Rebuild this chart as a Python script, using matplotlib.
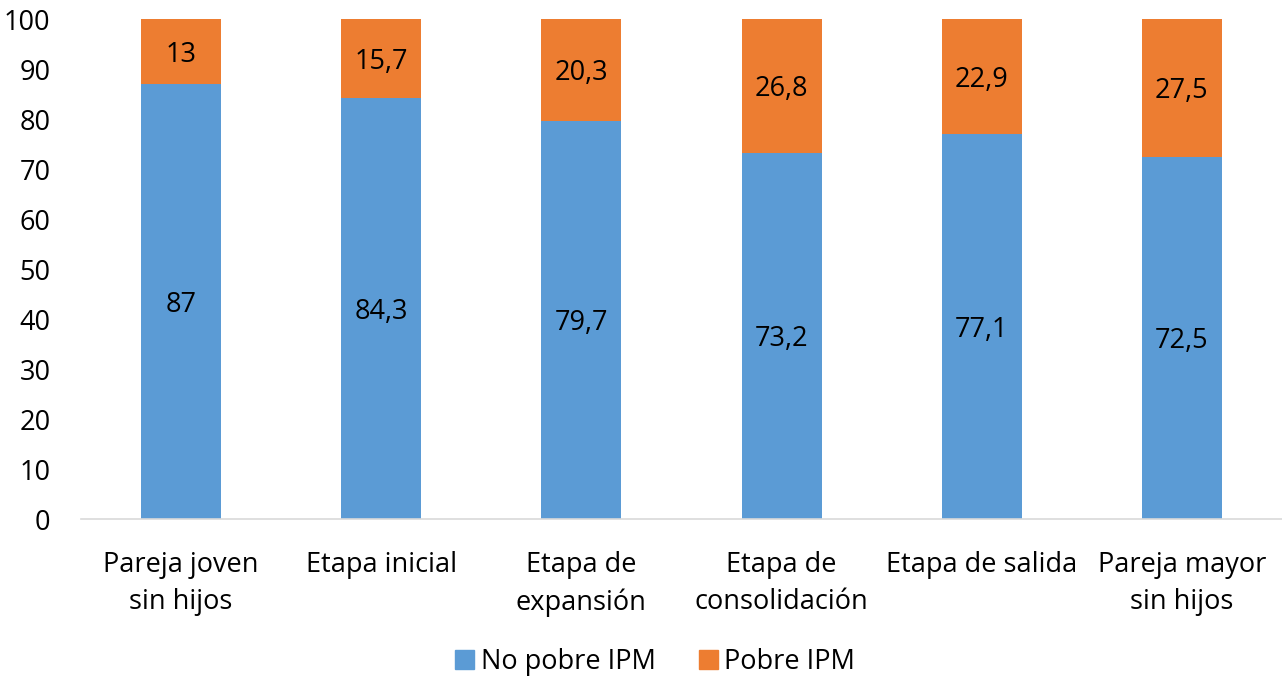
import numpy as np
import matplotlib.pyplot as plt
from matplotlib.patches import Patch

# datos
categorias = ["Pareja joven\nsin hijos", "Etapa inicial", "Etapa de\nexpansión",
              "Etapa de\nconsolidación", "Etapa de salida", "Pareja mayor\nsin hijos"]
no_pobre = [87, 84.3, 79.7, 73.2, 77.1, 72.5]
pobre = [13, 15.7, 20.3, 26.8, 22.9, 27.5]

azul = "#5B9BD5"
naranja = "#ED7D31"

plt.rcParams["font.family"] = ["Open Sans", "DejaVu Sans"]
fs = 19.5

fig = plt.figure(figsize=(12.82, 6.77), dpi=100)
ax = fig.add_axes([81 / 1282, 158 / 677, 1201 / 1282, 500 / 677])

x = np.arange(len(categorias))
ax.bar(x, no_pobre, width=0.4, color=azul, label="No pobre IPM")
ax.bar(x, pobre, width=0.4, bottom=no_pobre, color=naranja, label="Pobre IPM")

def fmt(v):
    return f"{v:g}".replace(".", ",")

for i in range(len(x)):
    ax.text(x[i], no_pobre[i] / 2, fmt(no_pobre[i]), ha="center", va="center_baseline", fontsize=fs)
    ax.text(x[i], no_pobre[i] + pobre[i] / 2, fmt(pobre[i]), ha="center", va="center_baseline", fontsize=fs)

ax.set_xlim(-0.5, 5.5)
ax.set_ylim(0, 100)
ax.set_yticks(range(0, 101, 10))
ax.set_xticks(x)
ax.set_xticklabels(categorias, fontsize=fs, linespacing=1.45)
ax.tick_params(axis="y", length=0, pad=22, labelsize=fs)
ax.tick_params(axis="x", length=0, pad=23)

for s in ["top", "right", "left"]:
    ax.spines[s].set_visible(False)
ax.spines["bottom"].set_color("#D9D9D9")
ax.spines["bottom"].set_linewidth(1.2)

handles = [Patch(color=azul, label="No pobre IPM"), Patch(color=naranja, label="Pobre IPM")]
fig.legend(handles=handles, loc="center", bbox_to_anchor=(0.511, 1 - 662 / 677), ncol=2,
           frameon=False, fontsize=fs, handlelength=0.7, handleheight=0.7,
           handletextpad=0.25, columnspacing=1.6)

fig.savefig("out.png", dpi=100)
